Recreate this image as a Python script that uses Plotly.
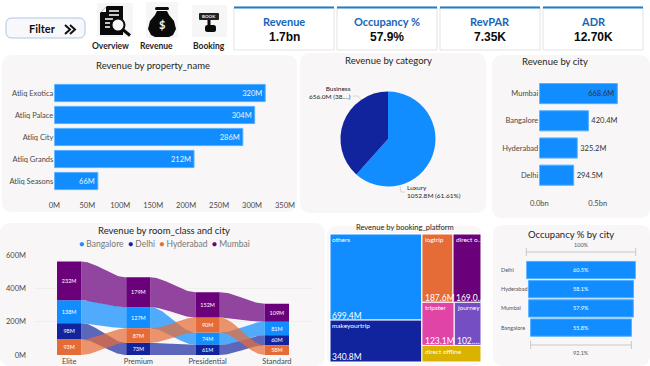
import numpy as np
import plotly.graph_objects as go

W, H = 650, 366
FONT = "Lato"
BLUE, NAVY, ORANGE, PURPLE, PINK, VIOLET, YELLOW = "#118DFF", "#12239E", "#E66C37", "#6B007B", "#E044A7", "#744EC2", "#D9B300"
CARD = "#F8F6F7"

# ---- data ----
kpi_names = ["Revenue", "Occupancy %", "RevPAR", "ADR"]
kpi_values = ["1.7bn", "57.9%", "7.35K", "12.70K"]

properties = ["Atliq Exotica", "Atliq Palace", "Atliq City", "Atliq Grands", "Atliq Seasons"]
property_revenue = [320, 304, 286, 212, 66]

categories = ["Luxury", "Business"]
category_revenue = [1052.8, 656.0]

cities = ["Mumbai", "Bangalore", "Hyderabad", "Delhi"]
city_revenue = [668.6, 420.4, 325.2, 294.5]

room_classes = ["Elite", "Premium", "Presidential", "Standard"]
ribbon_cities = ["Bangalore", "Delhi", "Hyderabad", "Mumbai"]
rev_bangalore = [138, 127, 74, 81]
rev_delhi = [98, 73, 61, 60]
rev_hyderabad = [93, 87, 90, 58]
rev_mumbai = [232, 179, 152, 109]

# treemap: leaves plus grouping nodes that only fix the tiling order
tm_labels = ["left", "right", "others", "makeyourtrip", "row1", "row2", "logtrip", "direct online", "tripster", "journey", "direct offline"]
tm_parents = ["", "", "left", "left", "right", "right", "row1", "row1", "row2", "row2", "right"]
tm_values = [0, 0, 699.4, 340.8, 0, 0, 187.6, 169.0, 123.1, 102.0, 86.9]
tm_names_shown = ["others", "makeyourtrip", "logtrip", "direct o...", "tripster", "journey", "direct offline"]
tm_values_shown = ["699.4M", "340.8M", "187.6M", "169.0...", "123.1M", "102....", ""]

occ_cities = ["Delhi", "Hyderabad", "Mumbai", "Bangalore"]
occ_values = [60.5, 58.1, 57.9, 55.8]


# ---- pixel helpers (page furniture only) ----
def px(x):
    return x / W


def py(y):
    return 1 - y / H


def rrect(x0, y0, x1, y1, r, fill, line="rgba(0,0,0,0)", lw=0, layer="below"):
    p = (f"M{px(x0+r)},{py(y0)} L{px(x1-r)},{py(y0)} Q{px(x1)},{py(y0)} {px(x1)},{py(y0+r)} "
         f"L{px(x1)},{py(y1-r)} Q{px(x1)},{py(y1)} {px(x1-r)},{py(y1)} L{px(x0+r)},{py(y1)} "
         f"Q{px(x0)},{py(y1)} {px(x0)},{py(y1-r)} L{px(x0)},{py(y0+r)} Q{px(x0)},{py(y0)} {px(x0+r)},{py(y0)} Z")
    return dict(type="path", xref="paper", yref="paper", path=p, fillcolor=fill,
                line=dict(color=line, width=lw), layer=layer)


def poly(pts, fill=None, line=None, lw=0, layer="above", closed=True):
    p = "M" + " L".join(f"{px(x)},{py(y)}" for x, y in pts) + (" Z" if closed else "")
    return dict(type="path", xref="paper", yref="paper", path=p,
                fillcolor=fill if fill else "rgba(0,0,0,0)",
                line=dict(color=line if line else "rgba(0,0,0,0)", width=lw), layer=layer)


def seg(x0, y0, x1, y1, color, lw=1, layer="above"):
    return dict(type="line", xref="paper", yref="paper", x0=px(x0), y0=py(y0), x1=px(x1), y1=py(y1),
                line=dict(color=color, width=lw), layer=layer)


def circle(cx, cy, rx, ry, fill, line="rgba(0,0,0,0)", lw=0):
    return dict(type="circle", xref="paper", yref="paper", x0=px(cx-rx), x1=px(cx+rx), y0=py(cy+ry), y1=py(cy-ry),
                fillcolor=fill, line=dict(color=line, width=lw), layer="above")


def label(x, y, text, size=9, color="#252423", anchor="center", **kw):
    return dict(xref="paper", yref="paper", x=px(x), y=py(y), text=text, showarrow=False, xanchor=anchor,
                yanchor="middle", font=dict(size=size, color=color, family=kw.pop("family", FONT)),
                borderpad=0, **kw)


shapes, annots = [], []

# ---- cards ----
for box in [(2, 55, 297, 212), (300, 53, 486, 213), (492, 55, 650, 218),
            (0, 223, 325, 366), (327, 226, 482, 366), (493, 225, 650, 366)]:
    shapes.append(rrect(*box, 11, CARD))

# ---- filter button ----
shapes.append(rrect(6, 18, 85, 38, 6, "#F8F8FB", "#A9C6E6", 1))
annots.append(label(42, 29, "<b>Filter</b>", 11, "#111111"))
shapes.append(poly([(65, 25), (70, 29.5), (65, 34)], None, "#111111", 2, closed=False))
shapes.append(poly([(70, 25), (75, 29.5), (70, 34)], None, "#111111", 2, closed=False))

# ---- nav icons ----
shapes.append(rrect(97, 3, 133, 37, 1, "#F6F6F6"))
shapes.append(rrect(146, 2, 178, 38, 1, "#F6F6F6"))
shapes.append(rrect(192, 5, 227, 37, 1, "#F6F6F6"))
# overview
shapes.append(poly([(107, 6), (123, 6), (123, 35), (100, 35), (100, 13)], "#0A0A0A"))
shapes.append(poly([(106, 7), (106, 12), (101, 12)], "#F6F6F6"))
for y, x1 in [(11, 119), (15, 119), (19, 113), (23, 110), (27, 110)]:
    shapes.append(seg(109 if y < 16 else 105, y, x1, y, "#F6F6F6", 1.6))
shapes.append(seg(122, 29, 130, 35.5, "#0A0A0A", 3))
shapes.append(circle(118, 25, 6.5, 6.5, "#F6F6F6", "#0A0A0A", 2))
# revenue bag
shapes.append(rrect(155, 7, 169, 10, 1.5, "#0A0A0A", layer="above"))
shapes.append(poly([(157, 11), (167, 11), (169, 15), (174, 21), (176, 29), (173, 35), (169, 37), (155, 37),
                    (151, 35), (148, 29), (150, 21), (155, 15)], "#0A0A0A"))
annots.append(label(162, 25, "<b>$</b>", 11, "#F6F6F6"))
# booking sign
shapes.append(rrect(199, 13, 219, 20, 1, "#222222", layer="above"))
annots.append(label(209, 16.5, "<b>BOOK</b>", 4.5, "#F6F6F6"))
shapes.append(seg(209, 20, 209, 27, "#0A0A0A", 3))
shapes.append(rrect(205, 25, 216, 32, 2.5, "#0A0A0A", layer="above"))
for x, t, size in [(111, "Overview", 8.5), (156, "Revenue", 8.5), (209, "Booking", 8.5)]:
    annots.append(label(x, 46, f"<b>{t}</b>", size, "#252423"))

# ---- KPI cards ----
for (x0, x1), n, v in zip([(234, 334), (337, 437), (440, 540), (543, 643)], kpi_names, kpi_values):
    shapes.append(dict(type="rect", xref="paper", yref="paper", x0=px(x0), x1=px(x1), y0=py(50), y1=py(7),
                       fillcolor="white", line=dict(color="#E3E3E3", width=1), layer="below"))
    shapes.append(seg(x0, 7.5, x1, 7.5, "#1E7FC9", 2))
    annots.append(label((x0 + x1) / 2, 22, f"<b>{n}</b>", 11, "#1565B8"))
    annots.append(label((x0 + x1) / 2, 37, f"<b>{v}</b>", 12, "#0A0A0A", family="Liberation Sans"))

# ---- titles ----
for x, y, t, s in [(153, 66, "Revenue by property_name", 9.5), (388, 61, "Revenue by category", 9.5),
                   (555, 62, "Revenue by city", 9.5), (164, 230, "Revenue by room_class and city", 9.5),
                   (405, 227.5, "Revenue by booking_platform", 7.5), (571, 234, "Occupancy % by city", 9.5)]:
    annots.append(label(x, y, t, s, "#252423"))

fig = go.Figure()
TICK = dict(size=7.5, color="#4A4A4A", family=FONT)


def dom(x0, x1, y0, y1):
    return dict(x=[px(x0), px(x1)], y=[py(y1), py(y0)])


# ---- revenue by property ----
d = dom(54.3, 290, 82, 192)
fig.add_trace(go.Bar(y=properties, x=property_revenue, orientation="h", xaxis="x", yaxis="y", width=0.78,
                     marker=dict(color=BLUE, line=dict(color="#55B0FF", width=1)),
                     text=[f"{v}M" for v in property_revenue], textposition="inside", insidetextanchor="end",
                     textfont=dict(size=7.5, color="#EAF4FF", family=FONT), showlegend=False))
layout_axes = dict(
    xaxis=dict(domain=d["x"], range=[0, 357.6], tickvals=[0, 50, 100, 150, 200, 250, 300, 350],
               ticktext=["0M", "50M", "100M", "150M", "200M", "250M", "300M", "350M"], showgrid=False, zeroline=False,
               showline=False, ticks="outside", ticklen=6, tickcolor="rgba(0,0,0,0)", tickfont=TICK, anchor="y",
               automargin=False),
    yaxis=dict(domain=d["y"], autorange="reversed", showgrid=False, zeroline=False, tickfont=TICK, anchor="x",
               ticklen=0, automargin=False),
)

# ---- revenue by category (pie) ----
R = 47.5
fig.add_trace(go.Pie(labels=categories, values=category_revenue, sort=False, direction="clockwise", rotation=0,
                     marker=dict(colors=[BLUE, NAVY]), textinfo="none", showlegend=False,
                     domain=dict(x=[px(388 - R), px(388 + R)], y=[py(139 + R), py(139 - R)])))
annots.append(label(352, 92, "Business<br>656.0M (38....)", 6.5, "#252423", anchor="right", align="right"))
annots.append(label(406, 191, "Luxury<br>1052.8M (61.61%)", 6.5, "#252423", anchor="left", align="left"))
shapes.append(poly([(353, 96), (358, 96), (361, 100)], None, "#C8C8C8", 0.7, closed=False))
shapes.append(poly([(400, 186), (401, 192), (405, 192)], None, "#C8C8C8", 0.7, closed=False))

# ---- revenue by city ----
d = dom(539.3, 642, 80, 188.8)
fig.add_trace(go.Bar(y=cities, x=city_revenue, orientation="h", xaxis="x2", yaxis="y2", width=0.74,
                     marker=dict(color=BLUE, line=dict(color="#55B0FF", width=1)),
                     text=[f"{v}M" for v in city_revenue], textposition=["inside", "outside", "outside", "outside"],
                     insidetextanchor="end", cliponaxis=False,
                     textfont=dict(size=7.5, color="#333333", family=FONT), showlegend=False))
layout_axes["xaxis2"] = dict(domain=d["x"], range=[0, 880], tickvals=[0, 500], ticktext=["0.0bn", "0.5bn"],
                             showgrid=False, zeroline=False, ticks="outside", ticklen=7, tickcolor="rgba(0,0,0,0)",
                             tickfont=TICK, anchor="y2", automargin=False)
layout_axes["yaxis2"] = dict(domain=d["y"], autorange="reversed", showgrid=False, zeroline=False, tickfont=TICK,
                             anchor="x2", ticklen=0, automargin=False)

# ---- ribbon chart ----
d = dom(34.5, 311.5, 255, 355)
ribbon_values = [rev_bangalore, rev_delhi, rev_hyderabad, rev_mumbai]
ribbon_colors = [BLUE, NAVY, ORANGE, PURPLE]
ribbon_fill = ["rgba(17,141,255,0.72)", "rgba(18,35,158,0.68)", "rgba(230,108,55,0.72)", "rgba(107,0,123,0.72)"]
BAR_W = 0.35
n_cols, n_ser = len(room_classes), len(ribbon_cities)
lower, upper = np.zeros((n_ser, n_cols)), np.zeros((n_ser, n_cols))
for c in range(n_cols):
    base = 0
    for s in sorted(range(n_ser), key=lambda k: ribbon_values[k][c]):
        lower[s, c], upper[s, c] = base, base + ribbon_values[s][c]
        base += ribbon_values[s][c]
# flowing ribbons: geometry between column edges, derived from the stacked values
t = np.linspace(0, 1, 31)
ease = t * t * (3 - 2 * t)
for s in range(n_ser):
    for c in range(n_cols - 1):
        x = c + BAR_W / 2 + t * (1 - BAR_W)
        top = upper[s, c] + ease * (upper[s, c + 1] - upper[s, c])
        bot = lower[s, c] + ease * (lower[s, c + 1] - lower[s, c])
        fig.add_trace(go.Scatter(x=np.r_[x, x[::-1]], y=np.r_[top, bot[::-1]], fill="toself", mode="lines",
                                 line=dict(width=0), fillcolor=ribbon_fill[s], xaxis="x3", yaxis="y3",
                                 hoverinfo="skip", showlegend=False))
for s in range(n_ser):
    fig.add_trace(go.Bar(x=list(range(n_cols)), y=ribbon_values[s], base=lower[s], width=BAR_W, xaxis="x3", yaxis="y3",
                         marker=dict(color=ribbon_colors[s], line=dict(width=0)), name=ribbon_cities[s],
                         text=[f"{v}M" for v in ribbon_values[s]], textposition="inside", insidetextanchor="middle",
                         textangle=0, constraintext="none", textfont=dict(size=5.5, color="white", family=FONT),
                         showlegend=False))
layout_axes["xaxis3"] = dict(domain=d["x"], range=[-0.5, 3.5], tickvals=list(range(n_cols)), ticktext=room_classes,
                             showgrid=False, zeroline=False, tickfont=TICK, anchor="y3", ticklen=0, automargin=False)
layout_axes["yaxis3"] = dict(domain=d["y"], range=[0, 600], tickvals=[0, 200, 400, 600],
                             ticktext=["0M", "200M", "400M", "600M"], gridcolor="#F0EEEF", zeroline=False,
                             tickfont=TICK, anchor="x3", ticks="outside", ticklen=6, tickcolor="rgba(0,0,0,0)",
                             automargin=False)
legend_text = "&nbsp;&nbsp;".join(f"<span style='color:{c}'>●</span>&nbsp;<span style='color:#777777'>{n}</span>"
                                  for c, n in zip(ribbon_colors, ribbon_cities))
annots.append(label(164, 244, legend_text, 8.5))

# ---- treemap ----
tm_colors = ["rgba(0,0,0,0)", "rgba(0,0,0,0)", BLUE, NAVY, "rgba(0,0,0,0)", "rgba(0,0,0,0)", ORANGE, PURPLE, PINK, VIOLET, YELLOW]
fig.add_trace(go.Treemap(labels=tm_labels, parents=tm_parents, values=tm_values, branchvalues="remainder",
                         textinfo="none",
                         marker=dict(colors=tm_colors, line=dict(color="white", width=1), pad=dict(t=0, l=0, r=0, b=0)),
                         tiling=dict(packing="slice-dice", pad=0), pathbar=dict(visible=False), root=dict(color=CARD),
                         domain=dict(x=[px(330), px(481)], y=[py(362), py(234)])))
tm_name_pos = [(331, 239.5), (331, 325.5), (424, 239.5), (455, 239.5), (424, 307.5), (456, 307.5), (424, 351)]
tm_value_pos = [(331, 315.7), (331, 357), (424, 298), (455, 298), (424, 340.7), (456, 340.7), (424, 358)]
for (x, y), t_ in zip(tm_name_pos, tm_names_shown):
    annots.append(label(x, y, t_, 6.5, "white", anchor="left"))
for (x, y), t_ in zip(tm_value_pos, tm_values_shown):
    if t_:
        annots.append(label(x, y, t_, 8.5, "white", anchor="left"))

# ---- occupancy funnel ----
d = dom(526.3, 635.7, 260.4, 337.2)
fig.add_trace(go.Funnel(y=occ_cities, x=occ_values, orientation="h", xaxis="x4", yaxis="y4",
                        marker=dict(color=BLUE, line=dict(color="#55B0FF", width=1)),
                        connector=dict(visible=False), text=[f"{v}%" for v in occ_values], textinfo="text",
                        textposition="inside", insidetextanchor="middle", constraintext="none",
                        textfont=dict(size=5.5, color="white", family=FONT), showlegend=False))
layout_axes["xaxis4"] = dict(domain=d["x"], range=[-30.25, 30.25], visible=False, anchor="y4", automargin=False)
layout_axes["yaxis4"] = dict(domain=d["y"], autorange="reversed", showticklabels=False, showgrid=False, zeroline=False,
                             anchor="x4", automargin=False)
for c in occ_cities:
    annots.append(dict(xref="paper", yref="y4", x=px(499), y=c, text=c, showarrow=False, xanchor="left",
                       yanchor="middle", font=dict(size=5.5, color="#555555", family=FONT)))
GR = "#C9C9C9"
shapes += [seg(526.3, 252, 635.7, 252, GR), seg(526.3, 248, 526.3, 256, GR), seg(635.7, 248, 635.7, 256, GR),
           seg(530.6, 345, 631.4, 345, GR), seg(530.6, 341, 530.6, 349, GR), seg(631.4, 341, 631.4, 349, GR)]
annots.append(label(581, 245, "100%", 5.5, "#555555"))
annots.append(label(581, 352.7, "92.1%", 5.5, "#555555"))

fig.update_layout(width=W, height=H, margin=dict(l=0, r=0, t=0, b=0, autoexpand=False), paper_bgcolor="white",
                  plot_bgcolor="rgba(0,0,0,0)",
                  bargap=0.2, funnelgap=0.1, barmode="overlay", shapes=shapes, annotations=annots,
                  font=dict(family=FONT), showlegend=False, **layout_axes)
fig.write_html("out.html", config=dict(displayModeBar=False),
               post_script="document.body.style.margin='0';document.documentElement.style.overflow='hidden';")
